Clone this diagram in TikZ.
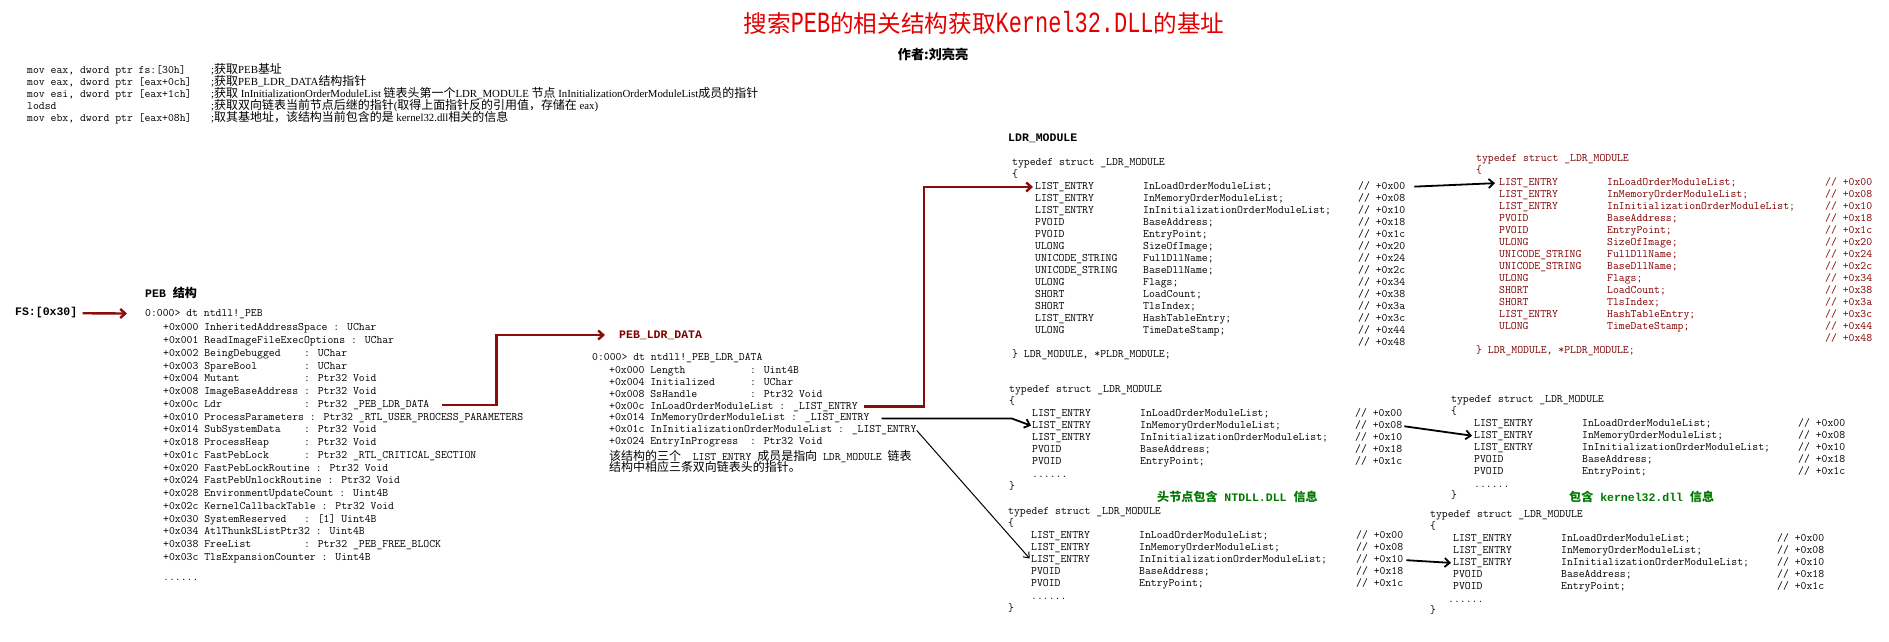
\documentclass[tikz,border=0pt]{standalone}
\usepackage{fontspec}
\usetikzlibrary{arrows.meta}

\newfontfamily\cjkfont{Noto Sans CJK SC}[Scale=1.05]
\newfontfamily\hdfont{Liberation Mono}
\newfontfamily\cmtfont{Liberation Serif}[Scale=0.95]
\newfontfamily\titlelat{Liberation Mono}[FakeStretch=0.75,Scale=1.3]

\definecolor{titlered}{RGB}{228,0,0}
\definecolor{linkred}{RGB}{140,12,12}
\definecolor{ldrred}{RGB}{128,0,0}
\definecolor{infogreen}{RGB}{0,120,0}

\newcommand{\zh}[1]{{\cjkfont #1}}
\newcommand{\codefont}{\fontsize{11.4}{12}\selectfont\ttfamily}

\newcommand{\ldrlong}{LIST\_ENTRY/InLoadOrderModuleList;/+0x00,
  LIST\_ENTRY/InMemoryOrderModuleList;/+0x08,
  LIST\_ENTRY/InInitializationOrderModuleList;/+0x10,
  PVOID/BaseAddress;/+0x18, PVOID/EntryPoint;/+0x1c,
  ULONG/SizeOfImage;/+0x20, UNICODE\_STRING/FullDllName;/+0x24,
  UNICODE\_STRING/BaseDllName;/+0x2c, ULONG/Flags;/+0x34,
  SHORT/LoadCount;/+0x38, SHORT/TlsIndex;/+0x3a,
  LIST\_ENTRY/HashTableEntry;/+0x3c, ULONG/TimeDateStamp;/+0x44}
\newcommand{\ldrshort}{LIST\_ENTRY/InLoadOrderModuleList;/+0x00,
  LIST\_ENTRY/InMemoryOrderModuleList;/+0x08,
  LIST\_ENTRY/InInitializationOrderModuleList;/+0x10,
  PVOID/BaseAddress;/+0x18, PVOID/EntryPoint;/+0x1c}

% one _LDR_MODULE block: prefix, x, y of the typedef line, fields, offset of the comment column
\newcommand{\ldrstruct}[5]{%
  \node[code] (#1head) at (#2,#3) {typedef struct \_LDR\_MODULE};
  \node[code] (#1open) at (#2,#3+12) {\{};
  \foreach \ty/\nm/\off [count=\i] in #4 {
    \node[code] (#1ty\i) at (#2+23,#3+12+12*\i) {\ty};
    \node[code] (#1nm\i) at (#2+131,#3+12+12*\i) {\nm};
    \node[code] (#1cm\i) at (#2+23+#5,#3+12+12*\i) {// \off};
  }%
}

\tikzset{
  code/.style={font=\codefont, anchor=west, inner sep=0pt, text height=7pt, text depth=2pt},
  comment/.style={code, font=\fontsize{11.4}{12}\selectfont\cmtfont},
  heading/.style={font=\fontsize{11.5}{12}\selectfont\hdfont\bfseries, anchor=west, inner sep=0pt},
  info/.style={heading, text=infogreen},
  redlink/.style={linkred, line width=2.4pt, -{Straight Barb[length=5pt,width=9pt]}},
  blacklink/.style={black, line width=1.8pt, -{Straight Barb[length=5pt,width=9pt]}},
  thinlink/.style={black, line width=1pt, -{Straight Barb[length=5pt,width=8pt]}}
}

\begin{document}
\begin{tikzpicture}[x=1pt,y=-1pt]
\useasboundingbox (0,0) rectangle (1889,641);
\fill[white] (0,0) rectangle (1889,641);

\node[font=\fontsize{22.5}{26}\selectfont, text=titlered, inner sep=0pt] (title) at (984,23)
  {\zh{搜索}{\titlelat PEB}\zh{的相关结构获取}{\titlelat Kernel32.DLL}\zh{的基址}};
\node[font=\fontsize{12.5}{14}\selectfont\bfseries, inner sep=0pt] (author) at (933,54) {\zh{作者:刘亮亮}};

\node[code] (asm1) at (27,71) {mov eax, dword ptr fs:[30h]};
\node[comment] (cmt1) at (211,71) {;\zh{获取}PEB\zh{基址}};
\node[code] (asm2) at (27,83) {mov eax, dword ptr [eax+0ch]};
\node[comment] (cmt2) at (211,83) {;\zh{获取}PEB\_LDR\_DATA\zh{结构指针}};
\node[code] (asm3) at (27,95) {mov esi, dword ptr [eax+1ch]};
\node[comment] (cmt3) at (211,95) {;\zh{获取} InInitializationOrderModuleList \zh{链表头第一个}LDR\_MODULE \zh{节点} InInitializationOrderModuleList\zh{成员的指针}};
\node[code] (asm4) at (27,107) {lodsd};
\node[comment] (cmt4) at (211,107) {;\zh{获取双向链表当前节点后继的指针}(\zh{取得上面指针反的引用值，存储在} eax)};
\node[code] (asm5) at (27,119) {mov ebx, dword ptr [eax+08h]};
\node[comment] (cmt5) at (211,119) {;\zh{取其基地址，该结构当前包含的是} kernel32.dll\zh{相关的信息}};

\node[heading] (pebhead) at (145,293) {PEB \zh{结构}};
\node[heading] (fs) at (15,313) {FS:[0x30]};
\node[code] (pebhdr) at (145,314) {0:000> dt ntdll!\_PEB};
\foreach \row [count=\i] in {
  {+0x000 InheritedAddressSpace : UChar},
  {+0x001 ReadImageFileExecOptions : UChar},
  {+0x002 BeingDebugged~~~ : UChar},
  {+0x003 SpareBool~~~~~~~ : UChar},
  {+0x004 Mutant~~~~~~~~~~ : Ptr32 Void},
  {+0x008 ImageBaseAddress : Ptr32 Void},
  {+0x00c Ldr~~~~~~~~~~~~~ : Ptr32 \_PEB\_LDR\_DATA},
  {+0x010 ProcessParameters : Ptr32 \_RTL\_USER\_PROCESS\_PARAMETERS},
  {+0x014 SubSystemData~~~ : Ptr32 Void},
  {+0x018 ProcessHeap~~~~~ : Ptr32 Void},
  {+0x01c FastPebLock~~~~~ : Ptr32 \_RTL\_CRITICAL\_SECTION},
  {+0x020 FastPebLockRoutine : Ptr32 Void},
  {+0x024 FastPebUnlockRoutine : Ptr32 Void},
  {+0x028 EnvironmentUpdateCount : Uint4B},
  {+0x02c KernelCallbackTable : Ptr32 Void},
  {+0x030 SystemReserved~~ : [1] Uint4B},
  {+0x034 AtlThunkSListPtr32 : Uint4B},
  {+0x038 FreeList~~~~~~~~ : Ptr32 \_PEB\_FREE\_BLOCK},
  {+0x03c TlsExpansionCounter : Uint4B}}
  \node[code] (peb\i) at (163,315.5+12.75*\i) {\row};
\node[code] (pebdots) at (163,578) {......};

\node[heading, text=ldrred] (ldrhead) at (619,335) {PEB\_LDR\_DATA};
\node[code] (ldrhdr) at (592,358) {0:000> dt ntdll!\_PEB\_LDR\_DATA};
\foreach \row [count=\i] in {
  {+0x000 Length~~~~~~~~~~ : Uint4B},
  {+0x004 Initialized~~~~~ : UChar},
  {+0x008 SsHandle~~~~~~~~ : Ptr32 Void},
  {+0x00c InLoadOrderModuleList : \_LIST\_ENTRY},
  {+0x014 InMemoryOrderModuleList : \_LIST\_ENTRY},
  {+0x01c InInitializationOrderModuleList : \_LIST\_ENTRY},
  {+0x024 EntryInProgress~ : Ptr32 Void}}
  \node[code] (ldr\i) at (609,358.8+11.93*\i) {\row};
\node[code] (note1) at (609,458) {\zh{该结构的三个} \_LIST\_ENTRY \zh{成员是指向} LDR\_MODULE \zh{链表}};
\node[code] (note2) at (609,469) {\zh{结构中相应三条双向链表头的指针。}};

\node[heading] (modhead) at (1008,138) {LDR\_MODULE};
\ldrstruct{A}{1012}{163}{\ldrlong}{323}
\node[code] (Aend) at (1358,343) {// +0x48};
\node[code] (Aclose) at (1012,355) {\} LDR\_MODULE, *PLDR\_MODULE;};

\begin{scope}[every node/.append style={text=ldrred}]
\ldrstruct{B}{1476}{159}{\ldrlong}{326}
\node[code] (Bend) at (1825,339) {// +0x48};
\node[code] (Bclose) at (1476,351) {\} LDR\_MODULE, *PLDR\_MODULE;};
\end{scope}

\ldrstruct{C}{1009}{390}{\ldrshort}{323}
\node[code] (Cdots) at (1032,475) {......};
\node[code] (Cclose) at (1009,487) {\}};
\node[info] (Cinfo) at (1157,497) {\zh{头节点包含} NTDLL.DLL \zh{信息}};

\ldrstruct{D}{1451}{400}{\ldrshort}{324}
\node[code] (Ddots) at (1474,485) {......};
\node[code] (Dclose) at (1451,496) {\}};
\node[info] (Dinfo) at (1569,497) {\zh{包含} kernel32.dll \zh{信息}};

\ldrstruct{E}{1008}{512}{\ldrshort}{325}
\node[code] (Edots) at (1031,597) {......};
\node[code] (Eclose) at (1008,609) {\}};

\ldrstruct{F}{1430}{515}{\ldrshort}{324}
\node[code] (Fdots) at (1448,600) {......};
\node[code] (Fclose) at (1430,611) {\}};

\draw[redlink, shorten <=5pt, shorten >=18pt] (fs) -- (pebhdr);
\draw[redlink, shorten <=12pt, shorten >=14pt] (peb7.east) -- ++(67,0) |- (ldrhead.west);
\draw[redlink, shorten <=6pt, shorten >=2pt] (ldr4.east) -- ++(66,0) |- (Aty1.west);
\draw[blacklink, shorten <=12pt, shorten >=1pt] (ldr5.east) -- ++(142,0) -- (Cty2.west);
\draw[thinlink, shorten >=2pt] (ldr6.east) -- (Ety3.west);
\draw[blacklink, shorten <=9pt, shorten >=4pt] (Acm1.east) -- (Bty1.west);
\draw[blacklink, shorten <=2pt, shorten >=2pt] (Ccm2.east) -- (Dty2.west);
\draw[blacklink, shorten <=3pt, shorten >=2pt] (Ecm3.east) -- (Fty3.west);

\end{tikzpicture}
\end{document}
